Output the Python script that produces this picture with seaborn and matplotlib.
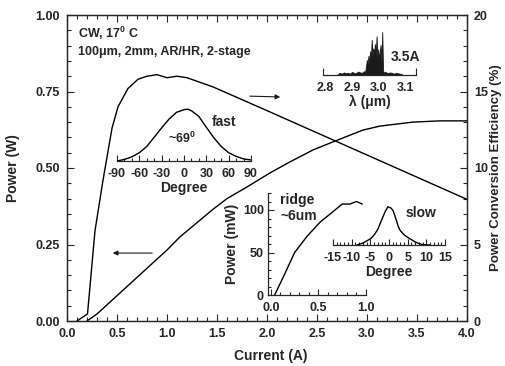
import numpy as np
import pandas as pd
import matplotlib
matplotlib.use('Agg')
import matplotlib.pyplot as plt
from matplotlib.ticker import MultipleLocator, FixedLocator, FormatStrFormatter
import seaborn as sns

# main L-I curve
cur_p = [0.20, 0.30, 1.00, 1.13, 1.46, 1.60, 1.80, 2.03, 2.23, 2.46, 2.68, 2.96, 3.13, 3.46, 3.73, 4.00]
power_w = [0.0, 0.023, 0.232, 0.275, 0.365, 0.40, 0.438, 0.484, 0.520, 0.559, 0.588, 0.624, 0.637, 0.650, 0.654, 0.654]

# power conversion efficiency
cur_e = [0.10, 0.205, 0.28, 0.36, 0.45, 0.51, 0.61, 0.71, 0.80, 0.90, 1.00, 1.10, 1.20, 1.46,
         1.53, 2.0, 2.5, 3.0, 3.5, 4.0]
eff_pct = [0.0, 0.46, 5.9, 9.2, 12.6, 14.0, 15.2, 15.8, 16.0, 16.1, 15.9, 16.0, 15.9, 15.3,
           15.1, 13.75, 12.3, 10.85, 9.4, 7.95]

# fast axis far field
fast_deg = [-90, -80, -70, -60, -50, -40, -30, -20, -10, 0, 5, 10, 20, 30, 40, 50, 60, 70, 80, 90]
fast_int = [0.0, 0.03, 0.08, 0.16, 0.28, 0.46, 0.64, 0.81, 0.94, 0.99, 1.0, 0.97, 0.86, 0.65,
            0.45, 0.28, 0.16, 0.09, 0.04, 0.02]

# slow axis far field
slow_deg = [-8.6, -7, -5, -4, -3, -2, -1, -0.3, 0.5, 1.1, 2, 2.5, 3, 4, 5, 6, 7, 8, 9, 11]
slow_int = [0.0, 0.05, 0.16, 0.26, 0.41, 0.65, 0.88, 1.0, 0.97, 0.9, 0.64, 0.48, 0.38, 0.27,
            0.2, 0.14, 0.08, 0.04, 0.01, 0.0]

# ridge laser L-I
ridge_i = [0.04, 0.13, 0.25, 0.38, 0.52, 0.62, 0.75, 0.83, 0.90, 0.96]
ridge_p = [0, 21, 50, 69, 86, 95, 107, 107, 110, 107]

# spectrum at 3.5 A
wl = [2.848, 2.855, 2.862, 2.870, 2.878, 2.885, 2.892, 2.900, 2.908, 2.915, 2.922, 2.930,
      2.937, 2.944, 2.948, 2.952, 2.955, 2.958, 2.961, 2.964, 2.967, 2.970, 2.973, 2.976,
      2.979, 2.982, 2.985, 2.988, 2.991, 2.994, 2.997, 3.000, 3.003, 3.006, 3.009, 3.012,
      3.015, 3.018, 3.025, 3.032, 3.040, 3.048, 3.055, 3.062, 3.070, 3.078, 3.085]
spec = [0.02, 0.05, 0.03, 0.06, 0.04, 0.05, 0.03, 0.07, 0.05, 0.04, 0.08, 0.06,
        0.05, 0.09, 0.05, 0.2, 0.35, 0.25, 0.45, 0.3, 0.55, 0.4, 0.82, 0.45,
        0.62, 0.5, 0.72, 0.45, 0.9, 0.4, 0.6, 0.35, 0.55, 0.7, 0.3, 1.0,
        0.1, 0.06, 0.07, 0.04, 0.06, 0.05, 0.03, 0.05, 0.04, 0.03, 0.02]

sns.set_theme(style='ticks')
plt.rcParams['font.family'] = ['Liberation Sans', 'DejaVu Sans']
plt.rcParams['font.weight'] = 'bold'
plt.rcParams['axes.labelweight'] = 'bold'
plt.rcParams['axes.unicode_minus'] = False
plt.rcParams['mathtext.fontset'] = 'custom'
plt.rcParams['mathtext.rm'] = 'Liberation Sans:bold'
plt.rcParams['mathtext.it'] = 'Liberation Sans:bold'
plt.rcParams['mathtext.bf'] = 'Liberation Sans:bold'
plt.rcParams['axes.linewidth'] = 0.9

TS = 9     # tick labels
LS = 10    # axis labels

W, H = 505, 366
fig = plt.figure(figsize=(W / 100, H / 100), dpi=100)

def frac(x0, y0, x1, y1):
    # pixel box -> figure fraction
    return [x0 / W, 1 - y1 / H, (x1 - x0) / W, (y1 - y0) / H]

lc = 'black'
lw = 1.0

ax = fig.add_axes(frac(67, 15, 467, 321))
df_p = pd.DataFrame({'I': cur_p, 'P': power_w})
sns.lineplot(data=df_p, x='I', y='P', ax=ax, color=lc, lw=lw)
ax.set_xlim(0, 4)
ax.set_ylim(0, 1)
ax.xaxis.set_major_locator(MultipleLocator(0.5))
ax.xaxis.set_minor_locator(MultipleLocator(0.1))
ax.yaxis.set_major_locator(MultipleLocator(0.25))
ax.yaxis.set_minor_locator(MultipleLocator(0.05))
ax.xaxis.set_major_formatter(FormatStrFormatter('%.1f'))
ax.yaxis.set_major_formatter(FormatStrFormatter('%.2f'))
ax.tick_params(which='both', direction='in', top=True, right=False, width=0.8, pad=5, labelsize=TS)
ax.tick_params(which='major', length=5)
ax.tick_params(which='minor', length=3)
ax.set_xlabel('Current (A)', fontsize=LS)
ax.set_ylabel('Power (W)', fontsize=LS)
ax.xaxis.set_label_coords(0.51, -0.093)
ax.yaxis.set_label_coords(-0.118, 0.5)

ax2 = ax.twinx()
df_e = pd.DataFrame({'I': cur_e, 'E': eff_pct})
sns.lineplot(data=df_e, x='I', y='E', ax=ax2, color=lc, lw=lw)
ax2.set_ylim(0, 20)
ax2.yaxis.set_major_locator(MultipleLocator(5))
ax2.yaxis.set_minor_locator(MultipleLocator(1))
ax2.tick_params(which='both', direction='in', width=0.8, pad=5, labelsize=TS)
ax2.tick_params(which='major', length=5)
ax2.tick_params(which='minor', length=3)
ax2.set_ylabel('Power Conversion Efficiency (%)', fontsize=9.5)
ax2.yaxis.set_label_coords(1.057, 0.5)

ax.text(0.11, 0.941, r'CW, 17$^{0}$ C', fontsize=TS, va='center', ha='left')
ax.text(0.11, 0.879, '100\u03bcm, 2mm, AR/HR, 2-stage', fontsize=TS, va='center', ha='left')

arr = dict(arrowstyle='-|>', color='k', lw=0.8, mutation_scale=7)
ax.annotate('', xy=(2.16, 0.732), xytext=(1.80, 0.735), arrowprops=arr)
ax.annotate('', xy=(0.43, 0.222), xytext=(0.88, 0.222), arrowprops=arr)

def bottom_only(a):
    for s in ['left', 'right', 'top']:
        a.spines[s].set_visible(False)
    a.patch.set_alpha(0)
    a.set_yticks([])
    a.set_xlabel('')
    a.set_ylabel('')

# fast axis inset
axf = fig.add_axes(frac(117, 104, 251, 161))
sns.lineplot(x=fast_deg, y=fast_int, ax=axf, color=lc, lw=lw)
axf.set_xlim(-90, 90)
axf.set_ylim(0, 1.1)
bottom_only(axf)
axf.xaxis.set_major_locator(MultipleLocator(30))
axf.xaxis.set_minor_locator(MultipleLocator(10))
axf.tick_params(which='both', direction='in', width=0.8, pad=5, labelsize=TS)
axf.tick_params(which='major', length=4)
axf.tick_params(which='minor', length=2.5)
axf.set_xlabel('Degree', fontsize=LS, labelpad=1)
axf.text(-3, 0.44, r'~69$^{0}$', fontsize=TS, ha='center', va='center')
axf.text(54, 0.75, 'fast', fontsize=LS, ha='center', va='center')

# spectrum inset
axs = fig.add_axes(frac(323, 29, 416, 75))
axs.fill_between(wl, 0, spec, color='k', lw=0.6)
axs.set_xlim(2.7926, 3.137)
axs.set_ylim(0, 1.07)
bottom_only(axs)
axs.set_xticks([2.8, 2.9, 3.0, 3.1])
axs.xaxis.set_minor_locator(FixedLocator([2.7926, 3.137]))
axs.tick_params(which='major', length=0, pad=5, labelsize=TS)
axs.tick_params(which='minor', direction='in', length=5, width=0.8)
axs.set_xlabel('\u03bb (\u03bcm)', fontsize=LS, labelpad=1)
axs.text(3.045, 0.42, '3.5A', fontsize=LS, ha='left', va='center')

# slow axis inset
axw = fig.add_axes(frac(333, 203, 445, 245))
sns.lineplot(x=slow_deg, y=slow_int, ax=axw, color=lc, lw=lw)
axw.set_xlim(-15, 15)
axw.set_ylim(0, 1.1)
bottom_only(axw)
axw.xaxis.set_major_locator(MultipleLocator(5))
axw.xaxis.set_minor_locator(MultipleLocator(1))
axw.tick_params(which='both', direction='in', width=0.8, pad=5, labelsize=TS)
axw.tick_params(which='major', length=4)
axw.tick_params(which='minor', length=2)
axw.set_xlabel('Degree', fontsize=LS, labelpad=1)
axw.text(4.3, 0.85, 'slow', fontsize=LS, ha='left', va='center')

# ridge inset
axr = fig.add_axes(frac(268, 193, 366, 295))
sns.lineplot(x=ridge_i, y=ridge_p, ax=axr, color=lc, lw=lw)
axr.set_xlim(-0.03, 1.0)
axr.set_ylim(0, 120)
axr.spines['right'].set_visible(False)
axr.spines['top'].set_visible(False)
axr.patch.set_alpha(0)
axr.xaxis.set_major_locator(MultipleLocator(0.5))
axr.xaxis.set_minor_locator(MultipleLocator(0.1))
axr.yaxis.set_major_locator(MultipleLocator(50))
axr.yaxis.set_minor_locator(MultipleLocator(10))
axr.xaxis.set_major_formatter(FormatStrFormatter('%.1f'))
axr.tick_params(which='both', direction='in', width=0.8, labelsize=TS)
axr.tick_params(axis='x', pad=5)
axr.tick_params(axis='y', pad=3)
axr.tick_params(which='major', length=4)
axr.tick_params(which='minor', length=2.5)
axr.set_xlabel('')
axr.set_ylabel('Power (mW)', fontsize=LS, labelpad=3)
axr.text(0.1, 112, 'ridge', fontsize=LS, ha='left', va='center')
axr.text(0.1, 93, '~6um', fontsize=LS, ha='left', va='center')

fig.savefig('out.png', dpi=100)
